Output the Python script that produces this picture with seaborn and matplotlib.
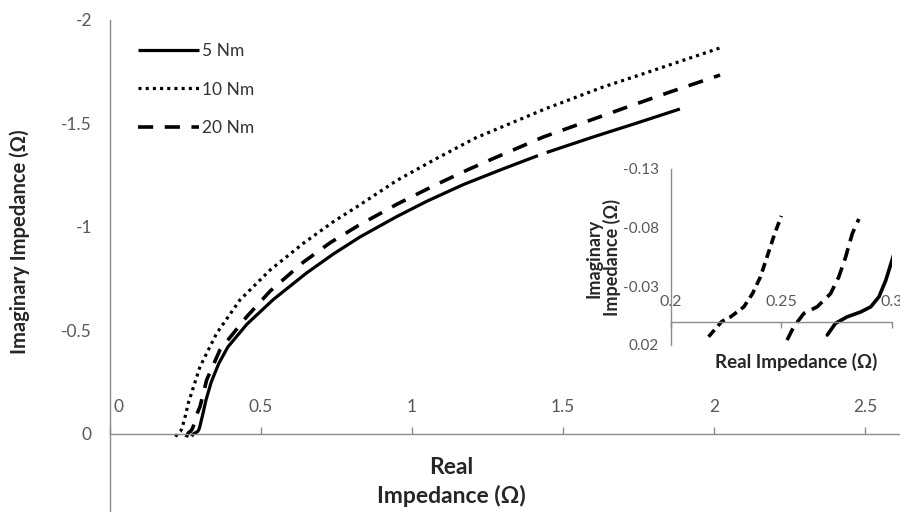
import matplotlib
matplotlib.use("Agg")
import matplotlib.pyplot as plt
import matplotlib.transforms as mtransforms
import pandas as pd
import seaborn as sns

# Nyquist data, real part and imaginary part in ohm (imaginary axis is reversed)
real_5nm = [0.2708, 0.2745, 0.2798, 0.286, 0.2905, 0.2942, 0.2973, 0.3001, 0.308, 0.318, 0.335,
            0.36, 0.39, 0.453, 0.541, 0.651, 0.74, 0.828, 0.949, 1.05, 1.17, 1.30, 1.417,
            1.446, 1.60, 1.744, 1.887]
imag_5nm = [0.0115, 0.0016, -0.004, -0.0082, -0.0125, -0.021, -0.035, -0.052, -0.10, -0.165, -0.25,
            -0.34, -0.42, -0.53, -0.65, -0.778, -0.87, -0.952, -1.05, -1.125, -1.205, -1.28, -1.345,
            -1.36, -1.435, -1.502, -1.570]
seg_5nm = [0] * 23 + [1] * 4   # the 5 Nm trace has a small gap near 1.43 ohm

real_10nm = [0.217, 0.223, 0.227, 0.233, 0.237, 0.2405, 0.2435, 0.247, 0.250, 0.259, 0.298, 0.353,
             0.43, 0.53, 0.64, 0.74, 0.82, 0.95, 1.08, 1.21, 1.44, 1.63, 1.755, 2.03]
imag_10nm = [0.013, 0.0, -0.004, -0.0125, -0.024, -0.038, -0.055, -0.075, -0.090, -0.148, -0.325, -0.486,
             -0.647, -0.792, -0.921, -1.026, -1.10, -1.225, -1.33, -1.43, -1.57, -1.675, -1.735, -1.87]

real_20nm = [0.2526, 0.2556, 0.2602, 0.2662, 0.2723, 0.276, 0.2791, 0.2821, 0.2851, 0.298, 0.32, 0.364,
             0.453, 0.53, 0.64, 0.73, 0.82, 0.95, 1.08, 1.19, 1.26, 1.435, 1.70, 1.85, 2.02]
imag_20nm = [0.0158, 0.0045, -0.0069, -0.0125, -0.0238, -0.0379, -0.0548, -0.0747, -0.0874, -0.132, -0.261, -0.406,
             -0.567, -0.69, -0.83, -0.925, -1.005, -1.11, -1.205, -1.28, -1.325, -1.435, -1.573, -1.65, -1.734]

series_labels = ['5 Nm', '10 Nm', '20 Nm']

# the inset chart only holds the first points of each trace
n_inset_5nm = 9
n_inset_10nm = 9
n_inset_20nm = 9

main_xticks = [0, 0.5, 1, 1.5, 2, 2.5]
main_xticklabels = ['0', '0.5', '1', '1.5', '2', '2.5']
main_yticks = [-2, -1.5, -1, -0.5, 0]
main_yticklabels = ['-2', '-1.5', '-1', '-0.5', '0']

inset_xticks = [0.2, 0.25, 0.3]
inset_xticklabels = ['0.2', '0.25', '0.3']
inset_yticks = [-0.13, -0.08, -0.03, 0.02]
inset_yticklabels = ['-0.13', '-0.08', '-0.03', '0.02']

df5 = pd.DataFrame({'real': real_5nm, 'imag': imag_5nm, 'seg': seg_5nm})
df10 = pd.DataFrame({'real': real_10nm, 'imag': imag_10nm})
df20 = pd.DataFrame({'real': real_20nm, 'imag': imag_20nm})

sns.set_style("white")
plt.rcParams['font.family'] = ['Lato', 'DejaVu Sans']

GREY = '#8c8c8c'
TICKTXT = '#595959'
TITLE = '#262626'

fig = plt.figure(figsize=(9, 5.12), dpi=100)

# ---- main axes ----
ax = fig.add_axes([110 / 900, 0, 790 / 900, 492 / 512])
lw = 2.3
sns.lineplot(data=df5, x='real', y='imag', units='seg', estimator=None, sort=False,
             ax=ax, color='black', lw=lw, solid_capstyle='butt')
sns.lineplot(data=df10, x='real', y='imag', estimator=None, sort=False,
             ax=ax, color='black', lw=lw, linestyle=(0, (0.95, 1.3)))
sns.lineplot(data=df20, x='real', y='imag', estimator=None, sort=False,
             ax=ax, color='black', lw=lw + 0.3, linestyle=(0, (4.2, 3.2)))

handles = [ax.lines[0], ax.lines[2], ax.lines[3]]

ax.set_xlim(0, 790 / 302)
ax.set_ylim(78 / 207, -2)
ax.set_xticks(main_xticks)
ax.set_xticklabels(main_xticklabels)
ax.set_yticks(main_yticks)
ax.set_yticklabels(main_yticklabels)

ax.xaxis.tick_top()
ax.spines['top'].set_position(('data', 0))
ax.spines['bottom'].set_visible(False)
ax.spines['right'].set_visible(False)
for s in ['top', 'left']:
    ax.spines[s].set_color(GREY)
    ax.spines[s].set_linewidth(1)
ax.tick_params(axis='x', direction='out', length=5, width=1, color=GREY, pad=9,
               labelsize=12.5, labelcolor=TICKTXT)
ax.tick_params(axis='y', direction='out', length=5, width=1, color=GREY, pad=8,
               labelsize=12.5, labelcolor=TICKTXT)

# the "0" on the x axis sits a little right of the y axis
t0 = ax.xaxis.get_major_ticks()[0]
t0.label2.set_transform(t0.label2.get_transform()
                        + mtransforms.ScaledTranslation(8 / 100, 0, fig.dpi_scale_trans))

ax.set_xlabel('Real\nImpedance (Ω)', fontsize=16.5, fontweight='bold', color=TITLE,
              ha='center', va='center', linespacing=1.4)
ax.xaxis.set_label_coords((451 - 110) / 790, (512 - 482) / 492)
ax.set_ylabel('Imaginary Impedance (Ω)', fontsize=14.5, fontweight='bold', color=TITLE,
              ha='center', va='center')
ax.yaxis.set_label_coords((20 - 110) / 790, (512 - 242) / 492)

ax.legend(handles, series_labels, loc='upper left', bbox_to_anchor=(138 / 900, 1 - 43 / 512),
          bbox_transform=fig.transFigure, frameon=False, fontsize=12.5, handlelength=3.5,
          handletextpad=0.2, labelspacing=1.3, borderpad=0, borderaxespad=0,
          labelcolor='#333333')

# ---- inset axes ----
axin = fig.add_axes([671 / 900, 1 - 345 / 512, 220.7 / 900, 176 / 512])
axin.patch.set_alpha(0)
lw_in = 2.6
sns.lineplot(data=df5.iloc[:n_inset_5nm], x='real', y='imag', estimator=None, sort=False,
             ax=axin, color='black', lw=lw_in)
sns.lineplot(data=df10.iloc[:n_inset_10nm], x='real', y='imag', estimator=None, sort=False,
             ax=axin, color='black', lw=lw_in, linestyle=(0, (2.5, 1.5)))
sns.lineplot(data=df20.iloc[:n_inset_20nm], x='real', y='imag', estimator=None, sort=False,
             ax=axin, color='black', lw=lw_in, linestyle=(0, (3.6, 2.0)))

axin.set_xlim(0.2, 0.3)
axin.set_ylim(0.02, -0.13)
axin.set_xticks(inset_xticks)
axin.set_xticklabels(inset_xticklabels)
axin.set_yticks(inset_yticks)
axin.set_yticklabels(inset_yticklabels)

axin.xaxis.tick_top()
axin.spines['top'].set_position(('data', 0))
axin.spines['bottom'].set_visible(False)
axin.spines['right'].set_visible(False)
for s in ['top', 'left']:
    axin.spines[s].set_color(GREY)
    axin.spines[s].set_linewidth(1)
axin.tick_params(axis='x', direction='in', length=4, width=1, color=GREY, pad=9,
                 labelsize=11.5, labelcolor=TICKTXT)
axin.tick_params(axis='y', direction='out', length=5, width=1, color=GREY, pad=4,
                 labelsize=11, labelcolor=TICKTXT)

axin.set_xlabel('Real Impedance (Ω)', fontsize=13.5, fontweight='bold', color=TITLE,
                ha='center', va='center')
axin.xaxis.set_label_coords((796 - 671) / 220.7, (345 - 362) / 176)
axin.set_ylabel('Imaginary\nImpedance (Ω)', fontsize=13, fontweight='bold', color=TITLE,
                ha='center', va='center', linespacing=1.05)
axin.yaxis.set_label_coords((603 - 671) / 220.7, (345 - 258) / 176)

fig.savefig('out.png', dpi=100)
